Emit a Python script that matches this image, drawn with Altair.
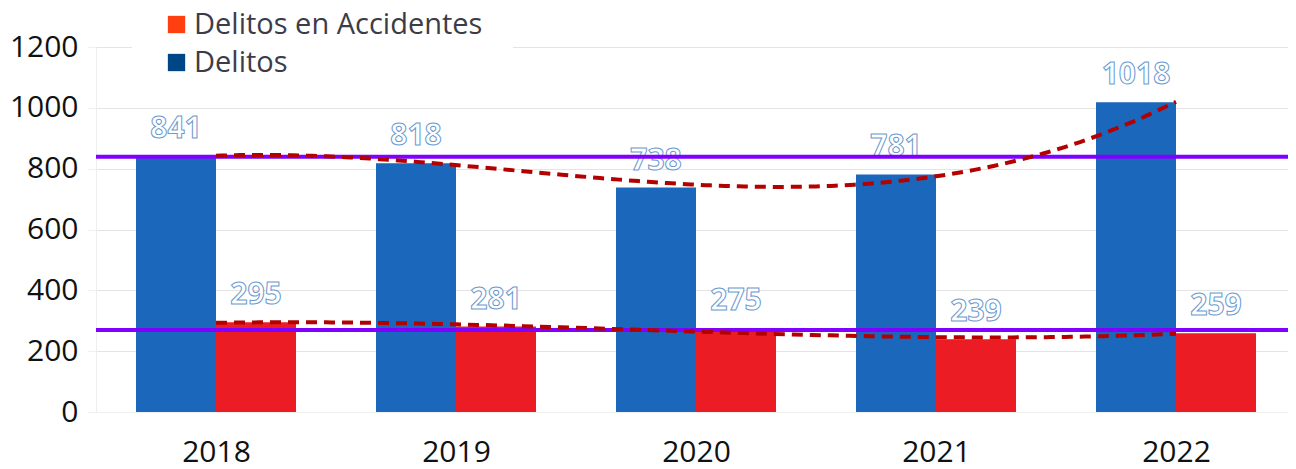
import altair as alt
import pandas as pd

years = [2018, 2019, 2020, 2021, 2022]
delitos = [841, 818, 738, 781, 1018]
accidentes = [295, 281, 275, 239, 259]

series = ["Delitos en Accidentes", "Delitos"]
bar_colors = ["#ec1c24", "#1a67bb"]
legend_colors = ["#ff3f10", "#004586"]

rows = []
for y, d, a in zip(years, delitos, accidentes):
    rows.append({"year": y, "serie": "Delitos", "valor": d, "side": -1})
    rows.append({"year": y, "serie": "Delitos en Accidentes", "valor": a, "side": 1})
df = pd.DataFrame(rows)

W, H = 1192, 365
xscale = alt.Scale(domain=[2017.5, 2017.5 + W / 240.0], nice=False, zero=False)
yscale = alt.Scale(domain=[0, 1200], nice=False)

base = alt.Chart(df)

bars = base.transform_calculate(
    x0="datum.year + (datum.side < 0 ? -1/3 : 0)",
    x1="datum.year + (datum.side < 0 ? 0 : 1/3)",
    cero="0",
).mark_bar().encode(
    x=alt.X("x0:Q", scale=xscale,
            axis=alt.Axis(values=years, format="d", title=None, grid=False,
                          labelFontSize=30, labelFont="Open Sans", labelColor="#111111",
                          labelPadding=25, domainColor="#eeeeee", tickColor="#eeeeee",
                          ticks=False)),
    x2="x1:Q",
    y=alt.Y("valor:Q", scale=yscale,
            axis=alt.Axis(values=[0, 200, 400, 600, 800, 1000, 1200], format="d", title=None,
                          labelFontSize=30, labelFont="Open Sans", labelColor="#111111",
                          labelPadding=10, gridColor="#e4e4e4", domainColor="#eeeeee",
                          tickColor="#eeeeee", tickSize=8)),
    y2="cero:Q",
    color=alt.Color("serie:N", scale=alt.Scale(domain=series, range=bar_colors), legend=None),
)

legend_layer = base.transform_calculate(
    leyenda="datum.serie"
).mark_square(opacity=1, size=1).encode(
    x=alt.value(-500),
    y=alt.value(-500),
    shape=alt.Shape("leyenda:N", scale=alt.Scale(domain=series, range=["square", "square"]),
                    legend=None),
    stroke=alt.Stroke("leyenda:N", scale=alt.Scale(domain=series, range=legend_colors),
                      legend=None),
    fill=alt.Fill("leyenda:N", scale=alt.Scale(domain=series, range=legend_colors),
                  legend=alt.Legend(title=None, orient="none", legendX=36, legendY=-67,
                                    symbolType="square", symbolSize=300, symbolOpacity=1,
                                    symbolStrokeWidth=0, labelFontSize=29,
                                    labelFont="Open Sans", labelColor="#3c3c48",
                                    labelFontWeight=500, labelLimit=600,
                                    rowPadding=8, labelOffset=3, fillColor="white",
                                    padding=30)),
)

labels = base.transform_calculate(
    xc="datum.year + datum.side / 6"
).mark_text(
    fontSize=30, font="Open Sans", fontWeight="bold", fill="white", stroke="#6a9ad0",
    strokeWidth=1, baseline="bottom", dy=-12,
).encode(
    x=alt.X("xc:Q", scale=xscale),
    y=alt.Y("valor:Q", scale=yscale),
    text="valor:Q",
)

means = base.mark_rule(color="#7f00ff", strokeWidth=4).encode(
    y=alt.Y("mean(valor):Q", scale=yscale),
    detail="serie:N",
)

trend = base.transform_calculate(
    t="datum.year - 2020"
).transform_regression(
    "t", "valor", method="poly", order=3, groupby=["serie"]
).transform_calculate(
    yr="datum.t + 2020"
).mark_line(color="#b30000", strokeWidth=4, strokeDash=[11, 7]).encode(
    x=alt.X("yr:Q", scale=xscale),
    y=alt.Y("valor:Q", scale=yscale),
    detail="serie:N",
)

chart = alt.layer(bars, labels, means, trend, legend_layer).properties(
    width=W, height=H,
    autosize=alt.AutoSizeParams(type="none"),
    padding={"left": 88, "top": 39, "right": 0, "bottom": 57},
).resolve_legend(fill="independent").configure_view(stroke=None).configure(background="white")

chart.save("out.html", embed_options={"renderer": "svg", "actions": False})
